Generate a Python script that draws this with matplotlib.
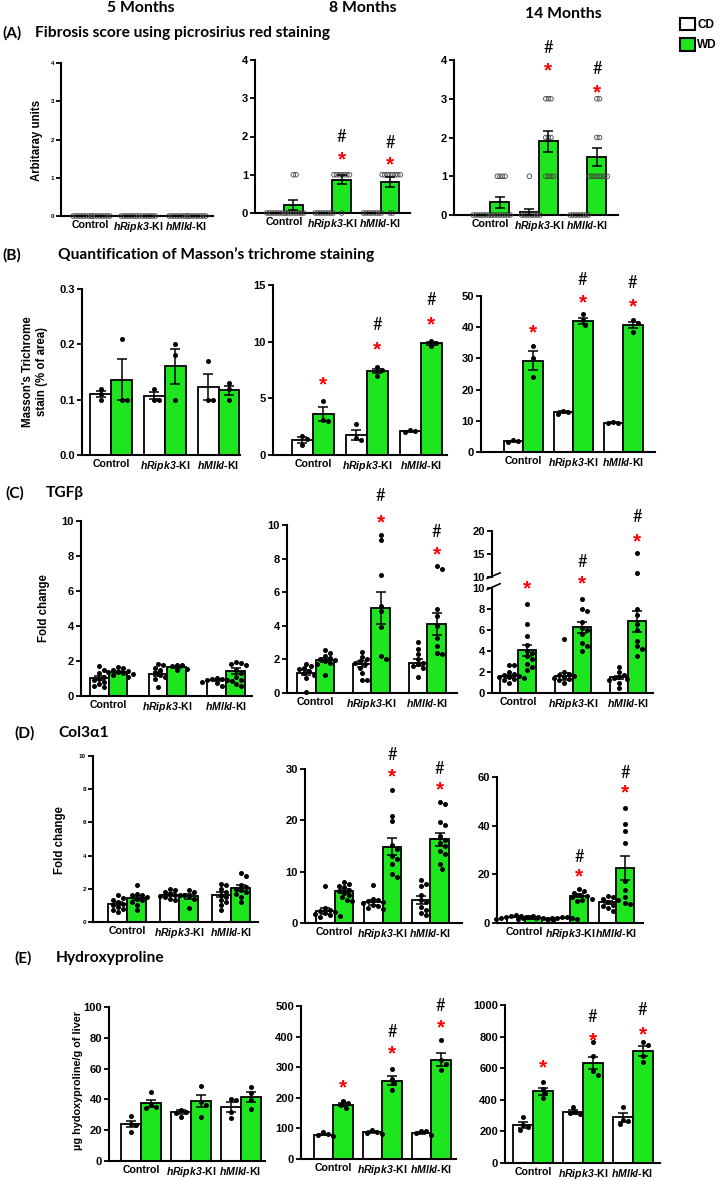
# Liver fibrosis panels (A-E) at 5, 8 and 14 months, CD vs WD
import numpy as np
import matplotlib
matplotlib.use("Agg")
import matplotlib.pyplot as plt
from matplotlib.patches import Patch

# ─── DATA ─────────────────────────────────────────────────────
GROUPS = ["Control", r"$\mathbfit{hRipk3}$-KI", r"$\mathbfit{hMlkl}$-KI"]
DIETS  = ["CD", "WD"]
MONTHS = ["5 Months", "8 Months", "14 Months"]
# every list below is ordered: Control CD, Control WD, hRipk3 CD, hRipk3 WD, hMlkl CD, hMlkl WD

# (A) fibrosis score
A5_MEAN = [0, 0, 0, 0, 0, 0]
A5_SEM  = [0, 0, 0, 0, 0, 0]
A5_PTS  = [[0] * 8, [0] * 8, [0] * 8, [0] * 6, [0] * 8, [0] * 8]
A8_MEAN = [0, 0.2, 0, 0.87, 0, 0.8]
A8_SEM  = [0, 0.13, 0, 0.12, 0, 0.13]
A8_PTS  = [[0] * 8, [1, 1] + [0] * 8, [0] * 8, [1] * 7 + [0], [0] * 8, [1] * 8 + [0, 0]]
A14_MEAN = [0, 0.33, 0.07, 1.9, 0, 1.5]
A14_SEM  = [0, 0.14, 0.08, 0.27, 0, 0.23]
A14_PTS  = [[0] * 8, [1] * 4 + [0] * 8, [1] + [0] * 8, [3, 3, 3, 2, 2, 2, 1, 1, 1, 1],
            [0] * 8, [3, 3, 2, 2] + [1] * 8]

# (B) Masson's trichrome (% of area)
B5_MEAN = [0.11, 0.136, 0.107, 0.16, 0.123, 0.117]
B5_SEM  = [0.006, 0.037, 0.006, 0.031, 0.023, 0.008]
B5_PTS  = [[0.12, 0.11, 0.10], [0.21, 0.10, 0.10], [0.12, 0.10, 0.10],
           [0.20, 0.18, 0.10], [0.17, 0.10, 0.10], [0.13, 0.12, 0.10]]
B8_MEAN = [1.35, 3.6, 1.8, 7.4, 2.1, 9.85]
B8_SEM  = [0.25, 0.6, 0.45, 0.2, 0.06, 0.15]
B8_PTS  = [[1.7, 1.4, 0.9], [4.8, 3.1, 3.0], [2.7, 1.5, 1.3],
           [7.8, 7.5, 7.0], [2.2, 2.1, 2.0], [10.1, 9.9, 9.6]]
B14_MEAN = [3.5, 29.3, 12.7, 42.1, 9.4, 40.7]
B14_SEM  = [0.15, 3.0, 0.3, 1.0, 0.15, 1.1]
B14_PTS  = [[3.7, 3.5, 3.3], [34.0, 30.0, 24.1], [13.2, 12.8, 12.2],
            [44.2, 42.2, 40.8], [9.6, 9.4, 9.2], [42.3, 41.2, 38.5]]

# (C) TGFb fold change
C5_MEAN = [1.02, 1.38, 1.25, 1.65, 0.9, 1.43]
C5_SEM  = [0.12, 0.06, 0.13, 0.06, 0.05, 0.15]
C5_PTS  = [[1.7, 1.5, 1.3, 1.1, 1.0, 0.9, 0.8, 0.7, 0.6, 0.5],
           [1.65, 1.6, 1.5, 1.45, 1.4, 1.35, 1.3, 1.25, 1.2, 1.1],
           [1.85, 1.8, 1.6, 1.5, 1.3, 1.2, 1.1, 1.0, 0.5],
           [1.8, 1.75, 1.7, 1.55, 1.5],
           [1.05, 1.0, 0.95, 0.9, 0.9, 0.85, 0.8, 0.75, 0.6],
           [1.95, 1.9, 1.85, 1.8, 1.5, 1.3, 1.1, 0.9, 0.7, 0.6]]
C8_MEAN = [1.2, 1.95, 1.75, 5.05, 1.8, 4.1]
C8_SEM  = [0.15, 0.13, 0.18, 0.97, 0.2, 0.65]
C8_PTS  = [[1.75, 1.6, 1.5, 1.4, 1.3, 1.2, 1.1, 0.9, 0.05],
           [2.55, 2.4, 2.2, 2.1, 2.0, 1.95, 1.9, 1.8, 1.75, 1.05],
           [2.45, 2.15, 2.0, 1.9, 1.8, 1.7, 1.5, 1.2, 0.75, 0.75],
           [9.4, 9.1, 7.0, 5.2, 4.9, 3.9, 2.2, 2.0],
           [3.05, 2.6, 2.3, 2.0, 1.8, 1.7, 1.6, 1.5, 0.95],
           [7.55, 7.4, 5.0, 4.6, 4.0, 3.3, 2.8, 2.4, 2.3]]
C14_MEAN = [1.6, 4.05, 1.6, 6.25, 1.5, 6.85]
C14_SEM  = [0.13, 0.55, 0.35, 0.55, 0.15, 1.0]
C14_PTS  = [[2.7, 2.7, 2.0, 1.8, 1.7, 1.6, 1.5, 1.5, 1.4, 1.3, 1.2, 1.0],
            [8.5, 6.6, 5.4, 4.6, 4.0, 3.8, 3.5, 3.2, 2.8, 2.5, 2.2],
            [5.1, 2.0, 1.8, 1.7, 1.6, 1.5, 1.4, 1.3, 1.2, 1.0],
            [9.0, 8.0, 7.8, 6.8, 6.2, 6.0, 5.6, 4.8, 4.5, 4.0],
            [2.5, 2.0, 1.7, 1.5, 1.4, 1.3, 1.2, 1.0, 0.5],
            [15.2, 10.8, 8.0, 7.4, 6.6, 6.0, 5.0, 4.5, 4.2, 3.5]]

# (D) Col3a1 fold change
D5_MEAN = [1.1, 1.45, 1.65, 1.55, 1.65, 2.05]
D5_SEM  = [0.1, 0.13, 0.07, 0.15, 0.15, 0.16]
D5_PTS  = [[1.6, 1.45, 1.35, 1.2, 1.1, 1.0, 0.9, 0.8, 0.7, 0.6],
           [2.2, 1.7, 1.65, 1.6, 1.5, 1.4, 1.3, 1.2, 1.0, 0.7],
           [2.0, 1.9, 1.8, 1.7, 1.65, 1.6, 1.55, 1.5, 1.4, 1.3],
           [1.9, 1.8, 1.65, 1.55, 1.4, 0.85],
           [2.3, 2.2, 2.0, 1.8, 1.6, 1.5, 1.3, 1.2, 1.0, 0.7],
           [2.95, 2.8, 2.2, 2.1, 2.0, 1.9, 1.8, 1.7, 1.5, 1.2]]
D8_MEAN = [2.3, 6.2, 4.0, 14.9, 4.5, 16.3]
D8_SEM  = [0.55, 0.4, 0.45, 1.6, 0.75, 1.25]
D8_PTS  = [[7.3, 3.0, 2.6, 2.3, 2.1, 2.0, 1.8, 1.6, 1.4, 1.2],
           [8.0, 7.6, 7.3, 7.0, 6.5, 6.2, 5.9, 5.5, 5.0, 4.5, 4.3],
           [7.5, 4.6, 4.4, 4.2, 4.0, 3.8, 3.6, 3.4, 3.0, 2.8],
           [26.0, 20.9, 19.8, 15.2, 14.5, 13.0, 12.5, 11.5, 9.5, 9.0],
           [8.4, 7.6, 7.2, 5.5, 4.5, 4.0, 3.2, 2.6, 2.0, 1.5],
           [23.5, 23.2, 19.7, 19.0, 17.0, 16.2, 15.5, 15.0, 14.0, 13.5, 11.5, 10.6]]
D14_MEAN = [2.5, 2.0, 2.1, 11.2, 8.5, 22.5]
D14_SEM  = [0.2, 0.2, 0.1, 0.55, 0.7, 5.0]
D14_PTS  = [[3.3, 3.0, 2.8, 2.6, 2.5, 2.4, 2.2, 2.0, 1.8],
            [2.8, 2.6, 2.4, 2.2, 2.0, 1.8, 1.6, 1.2],
            [2.6, 2.4, 2.2, 2.0, 1.9, 1.8, 1.7],
            [14.0, 13.0, 12.5, 11.5, 11.0, 10.5, 10.0, 9.5, 9.0],
            [11.0, 10.5, 10.0, 9.5, 8.5, 7.5, 7.0, 6.0, 5.0],
            [47.4, 40.6, 38.0, 32.7, 17.3, 13.5, 10.7, 8.2, 8.0]]

# (E) hydroxyproline (ug/g liver)
E5_MEAN = [24, 37.5, 32, 39, 35, 41.5]
E5_SEM  = [2, 2.2, 1.2, 3.8, 3, 3]
E5_PTS  = [[29, 24.3, 23.3, 18.9], [44.6, 36.3, 35.2, 34.6], [33, 32, 31.3, 28.7],
           [48.9, 38.5, 36.3, 28.7], [40.5, 39.5, 32, 28], [48.3, 44.3, 39.6, 33.5]]
E8_MEAN = [80, 178, 87, 256, 85, 325]
E8_SEM  = [3, 5, 3, 15, 3, 20]
E8_PTS  = [[88, 82, 79, 76], [190, 182, 176, 168], [95, 88, 85, 83],
           [295, 262, 248, 225], [93, 90, 85, 80], [390, 325, 312, 290]]
E14_MEAN = [242, 455, 322, 630, 288, 710]
E14_SEM  = [18, 22, 12, 38, 26, 30]
E14_PTS  = [[290, 240, 230, 210], [510, 470, 440, 410], [355, 325, 318, 310],
            [765, 680, 580, 560], [355, 275, 265, 245], [765, 750, 680, 640]]
# ──────────────────────────────────────────────────────────────

# ─── LAYOUT (pixels of the 721x1181 figure) ───────────────────
W, H   = 721, 1181
GREEN  = "#1ee61e"
COLORS = ["white", GREEN]
ARIAL  = "Liberation Sans"
CALIBRI = "Lato"

plt.rcParams["mathtext.fontset"] = "custom"
plt.rcParams["mathtext.bfit"] = "Liberation Sans:bold:italic"
plt.rcParams["mathtext.rm"] = "Liberation Sans:bold"

# star / hash annotation heights (data units) keyed by bar index
SIG = {
    "A8":  ({3: 1.39, 5: 1.25}, {3: 1.99, 5: 1.83}),
    "A14": ({3: 3.72, 5: 3.16}, {3: 4.32, 5: 3.76}),
    "B8":  ({1: 6.2, 3: 9.3, 5: 11.5}, {3: 11.5, 5: 13.7}),
    "B14": ({1: 38.2, 3: 47.7, 5: 46.6}, {3: 55, 5: 54.3}),
    "C8":  ({3: 10.1, 5: 8.2}, {3: 11.7, 5: 9.6}),
    "D8":  ({3: 28.4, 5: 25.9}, {3: 32.7, 5: 29.95}),
    "D14": ({3: 18.8, 5: 53.3}, {3: 27, 5: 61.8}),
    "E8":  ({1: 231, 3: 345, 5: 427}, {3: 416, 5: 500}),
    "E14": ({1: 599, 3: 774, 5: 810}, {3: 926, 5: 968}),
}


def px_box(l, r, t, b):
    return [l / W, 1 - b / H, (r - l) / W, (b - t) / H]


def swarm(vals, sx, sy, dist):
    # Spread points sideways so that they do not sit on top of each other
    placed, offs = [], []
    cands = [0.0] + [s * j * dist * 0.5 for j in range(1, 30) for s in (1, -1)]
    for v in vals:
        py = v * sy
        for c in cands:
            if all((c - qx) ** 2 + (py - qy) ** 2 >= dist ** 2 * 0.95 for qx, qy in placed):
                break
        placed.append((c, py))
        offs.append(c / sx)
    return np.array(offs)


def style_axis(ax, ylim, yticks, tick_fs, fmt="{:g}"):
    for s in ["top", "right"]:
        ax.spines[s].set_visible(False)
    for s in ["left", "bottom"]:
        ax.spines[s].set_linewidth(1.5)
    ax.set_ylim(*ylim)
    ax.set_yticks(yticks)
    ax.set_yticklabels([fmt.format(t) for t in yticks], fontsize=tick_fs,
                       fontweight="bold", family=ARIAL)
    ax.tick_params(axis="y", length=3.5, width=1.3, pad=1.5)
    ax.tick_params(axis="x", length=0, pad=3)
    ax.patch.set_alpha(0)


def draw_panel(box, xlim, ylim, yticks, means, sems, pts, bw, dist,
               hollow=False, tick_fs=8, fmt="{:g}", sig=None):
    l, r, t, b = box
    ax = fig.add_axes(px_box(l, r, t, b))
    sx = (r - l) / (xlim[1] - xlim[0])
    sy = (b - t) / (ylim[1] - ylim[0])
    xs = []
    for g in range(3):
        xs += [g - bw / 2, g + bw / 2]
    ax.bar(xs, means, bw, color=COLORS * 3, edgecolor="black", linewidth=1.3, zorder=2)
    ax.errorbar(xs, means, yerr=sems, fmt="none", ecolor="black", elinewidth=1.1,
                capsize=3.5, capthick=1.1, zorder=5)
    for x, vals in zip(xs, pts):
        vals = np.array(vals, dtype=float)
        offs = swarm(vals, sx, sy, dist)
        if hollow:
            ax.scatter(x + offs, vals, s=11, facecolors="none", edgecolors="#444444",
                       linewidths=0.6, zorder=4, clip_on=False)
        else:
            keep = vals <= ylim[1]
            ax.scatter(x + offs[keep], vals[keep], s=13, color="black", linewidths=0,
                       zorder=4, clip_on=False)
    ax.set_xlim(*xlim)
    style_axis(ax, ylim, yticks, tick_fs, fmt)
    ax.set_xticks([0, 1, 2])
    ax.set_xticklabels(GROUPS, fontsize=7.6, fontweight="bold", family=ARIAL)
    if sig is not None:
        stars, hashes = sig
        for i, y in stars.items():
            ax.text(xs[i], y, "*", color="red", fontsize=15, fontweight="bold",
                    family=ARIAL, ha="center", va="center", clip_on=False)
        for i, y in hashes.items():
            ax.text(xs[i], y, "#", color="black", fontsize=12, family=CALIBRI,
                    ha="center", va="center", clip_on=False)
    return ax, xs


fig = plt.figure(figsize=(W / 100, H / 100), dpi=100)

# headings
for x, y, txt in [(141, 8, MONTHS[0]), (363, 8, MONTHS[1]), (563, 14, MONTHS[2])]:
    fig.text(x / W, 1 - y / H, txt, fontsize=11.3, fontweight="bold", family=CALIBRI,
             ha="center", va="center")
for x0, x1, y, lab, title in [(2, 35, 33, "(A)", "Fibrosis score using picrosirius red staining"),
                              (2, 58, 255, "(B)", "Quantification of Masson\u2019s trichrome staining"),
                              (5, 46, 493, "(C)", "TGF\u03b2"),
                              (14, 58, 733, "(D)", "Col3\u03b11"),
                              (14, 56, 958, "(E)", "Hydroxyproline")]:
    fig.text(x0 / W, 1 - y / H, lab, fontsize=11.2, fontweight="bold", family=CALIBRI,
             ha="left", va="center")
    fig.text(x1 / W, 1 - y / H, title, fontsize=11.2, fontweight="bold", family=CALIBRI,
             ha="left", va="center")

# y axis labels
for x, y, txt, fs in [(37, 140, "Arbitaray units", 8.3),
                      (35, 372, "Masson's Trichrome\nstain (% of area)", 8.3),
                      (44, 608, "Fold change", 8.3),
                      (60, 840, "Fold change", 8.3),
                      (78, 1080, "\u00b5g hydoxyproline/g of liver", 7.8)]:
    fig.text(x / W, 1 - y / H, txt, fontsize=fs, fontweight="bold", family=ARIAL,
             rotation=90, ha="center", va="center", linespacing=1.2)

# (A)
draw_panel((61, 213, 63, 216), (-0.61, 2.56), (0, 4), [0, 1, 2, 3, 4],
           A5_MEAN, A5_SEM, A5_PTS, 0.39, 2.6, hollow=True, tick_fs=4.5)
draw_panel((255, 410, 60, 213), (-0.6, 2.61), (0, 4), [0, 1, 2, 3, 4],
           A8_MEAN, A8_SEM, A8_PTS, 0.39, 2.6, hollow=True, sig=SIG["A8"])
draw_panel((454, 618, 60, 215), (-0.75, 2.63), (0, 4), [0, 1, 2, 3, 4],
           A14_MEAN, A14_SEM, A14_PTS, 0.39, 2.6, hollow=True, sig=SIG["A14"])

# (B)
draw_panel((82, 240, 289, 455), (-0.54, 2.4), (0, 0.3), [0, 0.1, 0.2, 0.3],
           B5_MEAN, B5_SEM, B5_PTS, 0.39, 5, fmt="{:.1f}")
draw_panel((273, 447, 285, 455), (-0.74, 2.49), (0, 15), [0, 5, 10, 15],
           B8_MEAN, B8_SEM, B8_PTS, 0.39, 5, sig=SIG["B8"])
draw_panel((481, 655, 296, 452), (-0.84, 2.64), (0, 50), [0, 10, 20, 30, 40, 50],
           B14_MEAN, B14_SEM, B14_PTS, 0.39, 5, sig=SIG["B14"])

# (C)
draw_panel((81, 252, 521, 696), (-0.47, 2.44), (0, 10), [0, 2, 4, 6, 8, 10],
           C5_MEAN, C5_SEM, C5_PTS, 0.32, 5)
draw_panel((287, 457, 525, 693), (-0.51, 2.53), (0, 10), [0, 2, 4, 6, 8, 10],
           C8_MEAN, C8_SEM, C8_PTS, 0.33, 5, sig=SIG["C8"])
# broken y axis for 14 months
low, xs = draw_panel((492, 653, 588, 693), (-0.47, 2.45), (0, 10), [0, 2, 4, 6, 8, 10],
                     C14_MEAN, C14_SEM, C14_PTS, 0.33, 5)
up = fig.add_axes(px_box(492, 653, 531, 577))
up.set_xlim(-0.47, 2.45)
style_axis(up, (10, 20), [10, 15, 20], 8)
up.spines["bottom"].set_visible(False)
up.set_xticks([])
for x, vals in zip(xs, C14_PTS):
    vals = np.array(vals, dtype=float)
    hi = vals[vals > 10]
    if len(hi):
        up.scatter(np.full(len(hi), x), hi, s=13, color="black", linewidths=0, zorder=4)
for i, y in {1: 9.9, 3: 10.4}.items():
    low.text(xs[i], y, "*", color="red", fontsize=15, fontweight="bold", family=ARIAL,
             ha="center", va="center", clip_on=False)
up.text(xs[5], 17.7, "*", color="red", fontsize=15, fontweight="bold", family=ARIAL,
        ha="center", va="center", clip_on=False)
for i, y in {3: 13.3, 5: 23}.items():
    up.text(xs[i], y, "#", fontsize=12, family=CALIBRI, ha="center", va="center",
            clip_on=False)
# break marks on the y axis
for ax, yy, k in [(up, 0.0, 1.0), (low, 1.0, 0.45)]:
    ax.plot([-0.03, 0.05], [yy - 0.03 * k, yy + 0.09 * k],
            transform=ax.transAxes, color="black", lw=1.2, clip_on=False)

# (D)
draw_panel((93, 258, 756, 922), (-0.66, 2.52), (0, 10), [0, 2, 4, 6, 8, 10],
           D5_MEAN, D5_SEM, D5_PTS, 0.37, 5, tick_fs=4.5)
draw_panel((305, 462, 769, 923), (-0.62, 2.66), (0, 30), [0, 10, 20, 30],
           D8_MEAN, D8_SEM, D8_PTS, 0.39, 5, sig=SIG["D8"])
draw_panel((497, 643, 777, 923), (-0.6, 2.58), (0, 60), [0, 20, 40, 60],
           D14_MEAN, D14_SEM, D14_PTS, 0.38, 5, sig=SIG["D14"])

# (E)
draw_panel((109, 265, 1007, 1161), (-0.64, 2.49), (0, 100), [0, 20, 40, 60, 80, 100],
           E5_MEAN, E5_SEM, E5_PTS, 0.4, 5)
draw_panel((301, 456, 1006, 1159), (-0.66, 2.51), (0, 500), [0, 100, 200, 300, 400, 500],
           E8_MEAN, E8_SEM, E8_PTS, 0.4, 5, sig=SIG["E8"])
draw_panel((505, 660, 1005, 1163), (-0.56, 2.55), (0, 1000), [0, 200, 400, 600, 800, 1000],
           E14_MEAN, E14_SEM, E14_PTS, 0.4, 5, sig=SIG["E14"])

# legend
handles = [Patch(facecolor=c, edgecolor="black", linewidth=1.5, label=d)
           for c, d in zip(COLORS, DIETS)]
fig.legend(handles=handles, loc="upper left", bbox_to_anchor=(674 / W, 1 - 12 / H),
           frameon=False, handlelength=1.25, handleheight=1.25, handletextpad=0.2,
           labelspacing=0.6, borderpad=0, prop={"family": ARIAL, "weight": "bold", "size": 8.5})

fig.savefig("out.png", dpi=100)
